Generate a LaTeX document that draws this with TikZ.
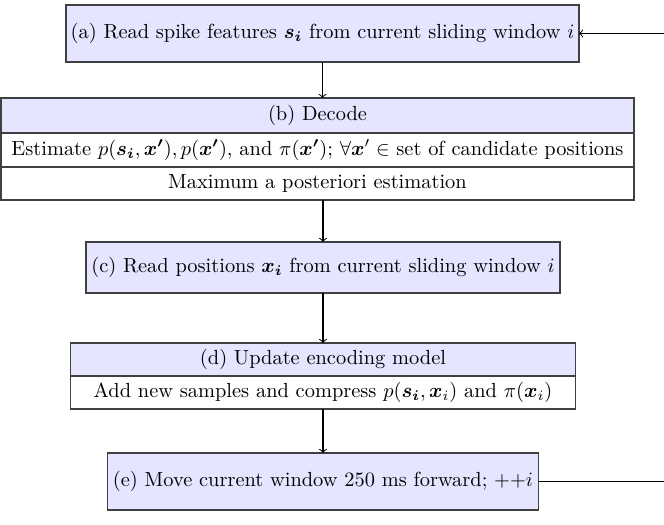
\documentclass[tikz,border=0pt]{standalone}
\usepackage{amsmath,bm}
\begin{document}
\begin{tikzpicture}[x=0.49pt,y=-0.49pt,
  every node/.style={inner sep=0pt,outer sep=0pt},
  hdr/.style={draw=black!75,fill=blue!10,line width=0.5pt},
  row/.style={draw=black!75,fill=white,line width=0.5pt},
  conn/.style={->,line width=0.5pt}]
\useasboundingbox (0,0) rectangle (664,525);
\clip (0,0) rectangle (664,525);
% (a)
\node[hdr,minimum width=513*0.49pt,minimum height=57*0.49pt] (a) at (322.5,33.5) {(a) Read spike features $\bm{s_i}$ from current sliding window $i$};
% (b)
\node[hdr,anchor=north west,minimum width=633*0.49pt,minimum height=35*0.49pt] (b1) at (1,98) {(b) Decode};
\node[row,anchor=north west,minimum width=633*0.49pt,minimum height=34*0.49pt] (b2) at (1,133) {Estimate $p(\bm{s_i},\bm{x'}),p(\bm{x'})$, and $\pi(\bm{x'})$; $\forall\bm{x}'\in$ set of candidate positions};
\node[row,anchor=north west,minimum width=633*0.49pt,minimum height=33*0.49pt] (b3) at (1,167) {Maximum a posteriori estimation};
% (c)
\node[hdr,minimum width=474*0.49pt,minimum height=51*0.49pt] (c) at (323,267.5) {(c) Read positions $\bm{x_i}$ from current sliding window $i$};
% (d)
\node[hdr,anchor=north,minimum width=505*0.49pt,minimum height=33*0.49pt] (d1) at (323,343) {(d) Update encoding model};
\node[row,anchor=north,minimum width=505*0.49pt,minimum height=33*0.49pt] (d2) at (323,376) {Add new samples and compress $p(\bm{s_i},\bm{x}_i)$ and $\pi(\bm{x}_i)$};
% (e)
\node[hdr,minimum width=431*0.49pt,minimum height=57*0.49pt] (e) at (323,481.5) {(e) Move current window 250 ms forward; ${+}{+}i$};
\coordinate (r) at (680,0);
% connectors
\draw[conn] (a.south) -- (a.south |- b1.north);
\draw[conn] (c.north |- b3.south) -- (c.north);
\draw[conn] (c.south) -- (d1.north);
\draw[conn] (d2.south) -- (e.north);
\draw[conn] (e.east) -- (e.east -| r) -- (a.east -| r) -- (a.east);
\end{tikzpicture}
\end{document}
